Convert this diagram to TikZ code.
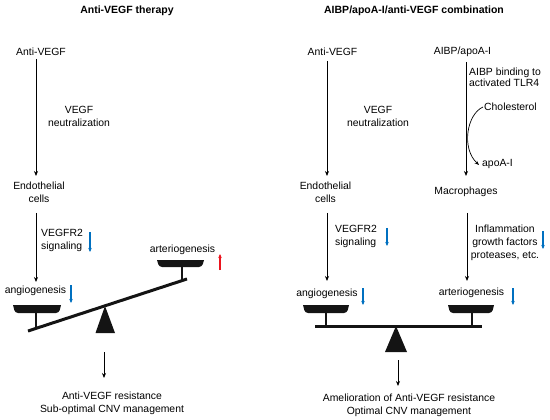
\documentclass[tikz,border=0pt]{standalone}
\usepackage{fontspec}
\setmainfont{Liberation Sans}
\usetikzlibrary{arrows.meta}
\definecolor{dnblue}{RGB}{0,112,192}
\definecolor{upred}{RGB}{235,20,30}
\definecolor{panblack}{RGB}{20,20,20}
\begin{document}
\begin{tikzpicture}[x=1pt,y=-1pt,
  txt/.style={font=\fontsize{10.4}{13}\selectfont, inner sep=0pt, align=center},
  txtl/.style={txt, align=left, anchor=west},
  ttl/.style={font=\bfseries\fontsize{10.5}{13}\selectfont, inner sep=0pt},
  arr/.style={-{Stealth[length=5pt,width=4pt]}, line width=0.8pt},
  bluearr/.style={-{Stealth[length=4pt,width=3.5pt]}, line width=1.1pt, dnblue},
  redarr/.style={-{Stealth[length=4pt,width=3.5pt]}, line width=1.1pt, upred},
  beam/.style={line width=3pt, panblack},
  stem/.style={line width=2pt, panblack},
  pan/.style={fill=panblack}
]
\useasboundingbox (0,0) rectangle (550,420);

% ---------------- left panel ----------------
\node[ttl] (t1) at (127,11) {Anti-VEGF therapy};
\node[txt] (av1) at (41,52) {Anti-VEGF};
\node[txt] (vn1) at (79,116.5) {VEGF\\neutralization};
\node[txt] (ec1) at (39,192.5) {Endothelial\\cells};
\node[txtl] (vr1) at (41,240.5) {VEGFR2\\signaling};
\node[txt] (an1) at (35.5,291) {angiogenesis};
\node[txt] (ar1) at (182.5,250) {arteriogenesis};
\node[txt] (res1) at (112,403.5) {Anti-VEGF resistance\\Sub-optimal CNV management};

\coordinate (a1s) at (36,59);
\coordinate (a1e) at (36,176);
\coordinate (a2s) at (36,213);
\coordinate (a2e) at (36,282);
\draw[arr] (a1s) -- (a1e);
\draw[arr] (a2s) -- (a2e);
\draw[bluearr] (90,232) -- (90,252);
\draw[bluearr] (71,285) -- (71,303);
\draw[redarr] (220,270) -- (220,254);

% balance left
\draw[beam] (28,331) -- (187,279);
\fill[pan] (13,305) -- (61,305) [rounded corners=3pt] -- (59,313) -- (15,313) [sharp corners] -- cycle;
\draw[stem] (36,312) -- (36,328.5);
\fill[pan] (157,260) -- (204,260) [rounded corners=3pt] -- (202,267) -- (159,267) [sharp corners] -- cycle;
\draw[stem] (182,266) -- (182,281);
\fill[panblack] (105,306) -- (115,333) -- (95.5,333) -- cycle;
\coordinate (d1s) at (104,352);
\coordinate (d1e) at (104,378);
\draw[arr] (d1s) -- (d1e);

% ---------------- right panel ----------------
\node[ttl] (t2) at (414,11) {AIBP/apoA-I/anti-VEGF combination};
\node[txt] (av2) at (332.5,52) {Anti-VEGF};
\node[txt] (vn2) at (378,116.5) {VEGF\\neutralization};
\node[txt] (ec2) at (325.5,192.5) {Endothelial\\cells};
\node[txt] (ai) at (462.5,52) {AIBP/apoA-I};
\node[txtl, font=\fontsize{10.4}{11}\selectfont] (bind) at (469,77.5) {AIBP binding to\\activated TLR4};
\node[txtl] (chol) at (484,107) {Cholesterol};
\node[txtl] (apo) at (482,164) {apoA-I};
\node[txt] (mac) at (466,192) {Macrophages};
\node[txtl] (vr2) at (335,236.5) {VEGFR2\\signaling};
\node[txt] (inf) at (505,243) {Inflammation\\growth factors\\proteases, etc.};
\node[txt] (an2) at (327,294) {angiogenesis};
\node[txt] (ar2) at (471.5,293) {arteriogenesis};
\node[txt] (res2) at (409,405.5) {Amelioration of Anti-VEGF resistance\\Optimal CNV management};

\draw[arr] (327,61) -- (327,176);
\draw[arr] (327,213) -- (327,281);
\draw[arr] (466,62) -- (466,176);
\draw[arr] (467,213) -- (467,281);
\draw[-{Stealth[length=4.5pt,width=3.5pt]}, line width=0.7pt] ([xshift=-1pt]chol.west) .. controls (467,114) and (461,148) .. ([xshift=-3pt,yshift=-1pt]apo.west);
\draw[bluearr] (387,228) -- (387,246);
\draw[bluearr] (543,231) -- (543,249);
\draw[bluearr] (363,288) -- (363,305);
\draw[bluearr] (513,288) -- (513,305);

% balance right
\draw[beam] (315,326) -- (482,326);
\fill[pan] (303,305) -- (349,305) [rounded corners=3pt] -- (347,313) -- (305,313) [sharp corners] -- cycle;
\draw[stem] (326,312) -- (326,325);
\fill[pan] (448,305) -- (494,305) [rounded corners=3pt] -- (492,313) -- (450,313) [sharp corners] -- cycle;
\draw[stem] (472,312) -- (472,325);
\fill[panblack] (396,326) -- (407,352) -- (385,352) -- cycle;
\draw[arr] (398,360) -- (398,386);
\end{tikzpicture}
\end{document}
